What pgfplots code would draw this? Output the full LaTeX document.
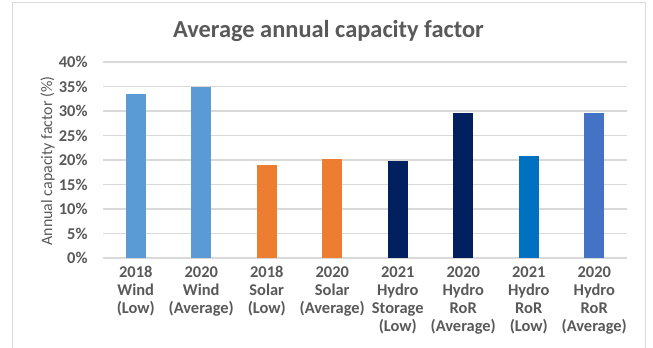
\documentclass[border=0pt]{standalone}
\usepackage{pgfplots}
\pgfplotsset{compat=1.18}
\usepackage{fontspec}
\setmainfont{Carlito}

\definecolor{txtgray}{HTML}{595959}
\definecolor{gridgray}{HTML}{D9D9D9}
\definecolor{framegray}{HTML}{D9D9D9}
\definecolor{windblue}{HTML}{5B9BD5}
\definecolor{solarorange}{HTML}{ED7D31}
\definecolor{hydronavy}{HTML}{002060}
\definecolor{hydroblue}{HTML}{0070C0}
\definecolor{hydrolight}{HTML}{4472C4}

\begin{document}
\begin{tikzpicture}[x=1bp,y=1bp]
\useasboundingbox (0,0) rectangle (653,347);
\fill[white] (0,0) rectangle (653,347);
% chart frame
\draw[framegray, line width=1bp] (12,-10) rectangle (645,344);

% title
\node[text=txtgray, font=\fontsize{24.5}{28}\selectfont\bfseries] at (328.5,316) {Average annual capacity factor};

\begin{axis}[
  at={(103bp,89bp)}, anchor=south west,
  scale only axis,
  width=524bp, height=196bp,
  xmin=-0.5, xmax=7.5,
  ymin=0, ymax=40,
  ytick={0,5,10,15,20,25,30,35,40},
  yticklabels={0\%,5\%,10\%,15\%,20\%,25\%,30\%,35\%,40\%},
  xtick={0,1,2,3,4,5,6,7},
  xticklabels={
    2018\\Wind\\(Low),
    2020\\Wind\\(Average),
    2018\\Solar\\(Low),
    2020\\Solar\\(Average),
    2021\\Hydro\\Storage\\(Low),
    2020\\Hydro\\RoR\\(Average),
    2021\\Hydro\\RoR\\(Low),
    2020\\Hydro\\RoR\\(Average)},
  xticklabel style={align=center, text=txtgray,
    font=\fontsize{16.5}{18}\selectfont\bfseries, yshift=-5bp},
  yticklabel style={text=txtgray,
    font=\fontsize{16.5}{18}\selectfont\bfseries, xshift=-12bp},
  major tick length=0pt,
  ymajorgrids,
  grid style={gridgray, line width=1.2bp},
  axis x line*=bottom,
  axis y line*=left,
  y axis line style={draw=none},
  x axis line style={gridgray, line width=1.2bp, -},
  ylabel={Annual capacity factor (\%)},
  ylabel style={at={(axis description cs:-0.106,0.495)}, anchor=center,
    text=txtgray, font=\fontsize{16}{18}\selectfont},
  ybar, bar width=20bp, bar shift=0pt,
  clip=false,
]
\addplot[fill=windblue, draw=none] coordinates {(0,33.4)};
\addplot[fill=windblue, draw=none] coordinates {(1,34.8)};
\addplot[fill=solarorange, draw=none] coordinates {(2,19.0)};
\addplot[fill=solarorange, draw=none] coordinates {(3,20.2)};
\addplot[fill=hydronavy, draw=none] coordinates {(4,19.8)};
\addplot[fill=hydronavy, draw=none] coordinates {(5,29.5)};
\addplot[fill=hydroblue, draw=none] coordinates {(6,20.8)};
\addplot[fill=hydrolight, draw=none] coordinates {(7,29.5)};
\end{axis}
\end{tikzpicture}
\end{document}
